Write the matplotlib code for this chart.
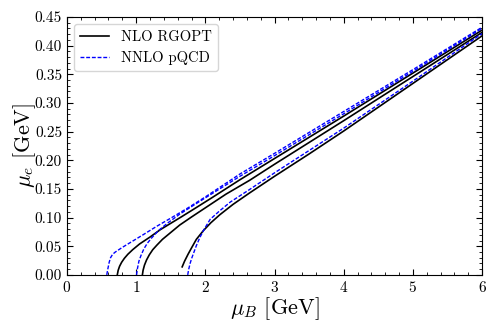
import numpy as np
import matplotlib
matplotlib.use("Agg")
import matplotlib.pyplot as plt
from matplotlib.ticker import MultipleLocator

plt.rcParams['font.family'] = 'serif'
plt.rcParams['font.serif'] = ['cmr10', 'DejaVu Serif']
plt.rcParams['mathtext.fontset'] = 'cm'
plt.rcParams['axes.formatter.use_mathtext'] = True

# NLO RGOPT (black solid)
rg1_x = [0.727, 0.74, 0.76, 0.79, 0.83, 0.88, 0.95, 1.05, 1.2, 1.35, 1.5, 1.65, 1.85, 2.1, 2.5, 3.0, 4.0, 5.0, 6.0]
rg1_y = [0.0, 0.008, 0.015, 0.022, 0.029, 0.036, 0.044, 0.054, 0.066, 0.079, 0.090, 0.101, 0.116, 0.135, 0.166, 0.203, 0.277, 0.352, 0.427]
rg2_x = [1.09, 1.10, 1.12, 1.15, 1.19, 1.24, 1.30, 1.38, 1.49, 1.63, 1.8, 2.0, 2.3, 2.64, 3.0, 4.0, 5.0, 6.0]
rg2_y = [0.0, 0.008, 0.017, 0.026, 0.035, 0.044, 0.052, 0.062, 0.073, 0.087, 0.101, 0.117, 0.141, 0.165, 0.193, 0.269, 0.346, 0.423]
rg3_x = [1.665, 1.70, 1.75, 1.80, 1.87, 1.97, 2.08, 2.21, 2.4, 2.64, 3.0, 3.5, 4.0, 5.0, 6.0]
rg3_y = [0.014, 0.024, 0.036, 0.047, 0.062, 0.077, 0.091, 0.105, 0.123, 0.143, 0.172, 0.211, 0.251, 0.334, 0.417]

# NNLO pQCD (blue dashed)
pq1_x = [0.575, 0.59, 0.61, 0.63, 0.66, 0.70, 0.80, 0.95, 1.10, 1.30, 1.50, 1.75, 2.0, 2.5, 3.0, 4.0, 5.0, 6.0]
pq1_y = [0.0, 0.010, 0.022, 0.030, 0.036, 0.040, 0.048, 0.059, 0.070, 0.085, 0.099, 0.117, 0.136, 0.176, 0.212, 0.285, 0.358, 0.432]
pq2_x = [1.005, 1.02, 1.04, 1.07, 1.11, 1.16, 1.22, 1.32, 1.45, 1.63, 1.85, 2.1, 2.5, 3.0, 4.0, 5.0, 6.0]
pq2_y = [0.0, 0.012, 0.024, 0.034, 0.045, 0.055, 0.064, 0.077, 0.090, 0.106, 0.123, 0.142, 0.172, 0.208, 0.281, 0.355, 0.430]
pq3_x = [1.745, 1.76, 1.78, 1.80, 1.83, 1.87, 1.92, 1.98, 2.07, 2.2, 2.36, 2.64, 3.0, 3.5, 4.0, 5.0, 6.0]
pq3_y = [0.0, 0.010, 0.020, 0.028, 0.038, 0.051, 0.065, 0.079, 0.097, 0.111, 0.127, 0.149, 0.178, 0.217, 0.256, 0.338, 0.421]

fig = plt.figure(figsize=(4.98, 3.32), dpi=100)
ax = fig.add_axes([0.1345, 0.172, 0.8335, 0.777])

dash = (2.8, 1.3)
ax.plot(rg1_x, rg1_y, color='black', lw=1.2, label='NLO RGOPT')
ax.plot(rg2_x, rg2_y, color='black', lw=1.2)
ax.plot(rg3_x, rg3_y, color='black', lw=1.2)
ax.plot(pq1_x, pq1_y, color='blue', lw=1.0, ls='--', dashes=dash, label='NNLO pQCD')
ax.plot(pq2_x, pq2_y, color='blue', lw=1.0, ls='--', dashes=dash)
ax.plot(pq3_x, pq3_y, color='blue', lw=1.0, ls='--', dashes=dash)

ax.set_xlim(0, 6)
ax.set_ylim(0, 0.45)
ax.xaxis.set_major_locator(MultipleLocator(1))
ax.xaxis.set_minor_locator(MultipleLocator(0.2))
ax.yaxis.set_major_locator(MultipleLocator(0.05))
ax.yaxis.set_minor_locator(MultipleLocator(0.01))
ax.yaxis.set_major_formatter(matplotlib.ticker.FormatStrFormatter('%.2f'))
ax.tick_params(which='both', direction='in', top=True, right=True, labelsize=11)
ax.tick_params(which='major', length=4)
ax.tick_params(which='minor', length=2)

ax.set_xlabel(r'$\mu_B$ [GeV]', fontsize=16, labelpad=0)
ax.set_ylabel(r'$\mu_e$ [GeV]', fontsize=16, labelpad=-2)

ax.legend(loc='upper left', fontsize=10.5, frameon=True, handlelength=2.0,
          borderaxespad=0.5, fancybox=True)

fig.savefig('out.png', dpi=100)
